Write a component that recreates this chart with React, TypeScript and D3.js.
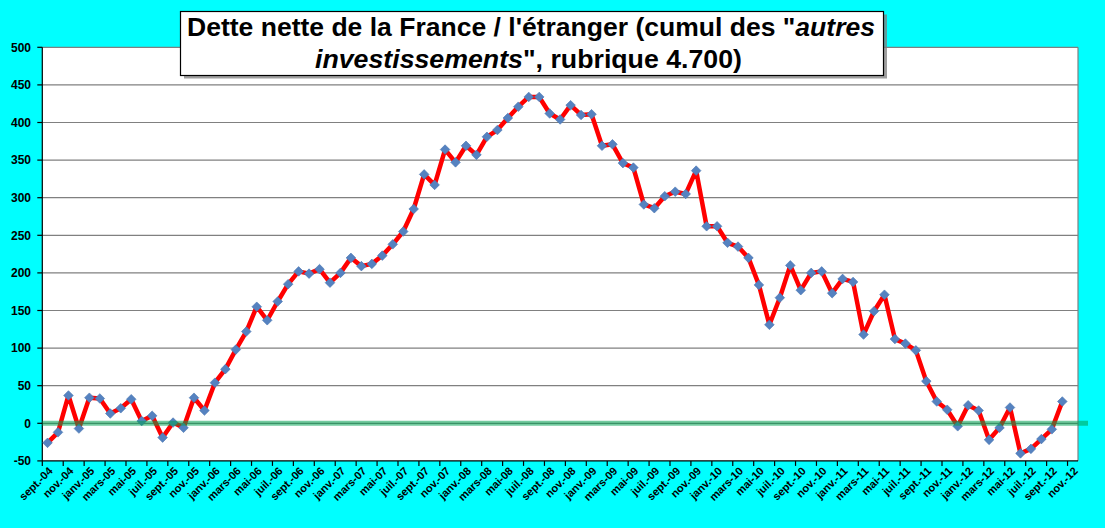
import React from "react";
import * as d3 from "d3";

const MONTHS = ["janv.", "févr.", "mars", "avr.", "mai", "juin", "juil.", "août", "sept.", "oct.", "nov.", "déc."];
// categories: sept-04 .. nov-12 (99 months)
const START_YEAR = 2004;
const START_MONTH = 8; // sept.
const N_CATEGORIES = 99;
const categories: string[] = d3.range(N_CATEGORIES).map((i) => {
  const m = (START_MONTH + i) % 12;
  const y = START_YEAR + Math.floor((START_MONTH + i) / 12);
  return `${MONTHS[m]}-${String(y % 100).padStart(2, "0")}`;
});

const values: number[] = [
  -26, -12, 37, -7, 34, 33, 13, 20, 32, 3,
  10, -19, 1, -6, 34, 17, 54, 72, 98, 122,
  155, 137, 162, 185, 202, 199, 205, 187, 200, 220,
  209, 212, 223, 238, 255, 285, 331, 317, 364, 347,
  369, 357, 381, 390, 406, 421, 434, 434, 412, 404,
  423, 410, 411, 369, 371, 346, 340, 291, 286, 302,
  308, 305, 336, 262, 262, 240, 235, 220, 184, 131,
  167, 210, 177, 200, 202, 173, 192, 188, 118, 149,
  171, 112, 106, 97, 56, 29, 18, -4, 24, 17,
  -22, -6, 21, -40, -34, -21, -8, 29,
];

const yTicks: number[] = [-50, 0, 50, 100, 150, 200, 250, 300, 350, 400, 450, 500];
const titleLine1 = ["Dette nette de la France / l'étranger (cumul des \"", "autres"];
const titleLine2 = ["investissements", "\", rubrique 4.700)"];

const W = 1105;
const H = 528;
const L = 42.3, R = 1078, T = 47.3, B = 460.9;
const FONT = "'Liberation Sans', Arial, sans-serif";

export default function App() {
  const x = d3.scaleBand<string>().domain(categories).range([L, R]).paddingInner(0).paddingOuter(0);
  const y = d3.scaleLinear().domain([-50, 500]).range([B, T]);
  const cx = (i: number) => (x(categories[i]) as number) + x.bandwidth() / 2;

  const line = d3
    .line<number>()
    .x((_, i) => cx(i))
    .y((d) => y(d));

  const diamond = d3.symbol(d3.symbolSquare, 46)() as string;

  const tickIdx = d3.range(0, N_CATEGORIES, 2);

  return (
    <div style={{ position: "fixed", left: 0, top: 0, width: W, height: H }}>
      <svg width={W} height={H} style={{ display: "block" }}>
        <rect x={0} y={0} width={W} height={H} fill="#00FFFF" />
        <rect x={L} y={T} width={R - L} height={B - T} fill="#FFFFFF" />
        {/* gridlines */}
        {yTicks.filter((t) => t !== -50).map((t) => (
          <line key={"g" + t} x1={L} x2={R} y1={y(t)} y2={y(t)} stroke="#808080" strokeWidth={1.2} />
        ))}
        {/* right border */}
        <line x1={R} x2={R} y1={T} y2={B} stroke="#808080" strokeWidth={1.2} />
        {/* y axis */}
        <line x1={L} x2={L} y1={T} y2={B} stroke="#000" strokeWidth={1.2} />
        {yTicks.map((t) => (
          <g key={"y" + t}>
            <line x1={L - 5} x2={L} y1={y(t)} y2={y(t)} stroke="#000" strokeWidth={1.2} />
            <text
              x={31}
              y={y(t)}
              dy="0.36em"
              textAnchor="end"
              fontFamily={FONT}
              fontWeight="bold"
              fontSize={12}
              fill="#000"
            >
              {t}
            </text>
          </g>
        ))}
        {/* x axis */}
        <line x1={L} x2={R} y1={B} y2={B} stroke="#000" strokeWidth={1.2} />
        {tickIdx.map((i) => {
          const bx = x(categories[i]) as number;
          return <line key={"xt" + i} x1={bx} x2={bx} y1={B} y2={B + 5} stroke="#000" strokeWidth={1.2} />;
        })}
        {tickIdx.map((i) => (
          <text
            key={"xl" + i}
            transform={`translate(${cx(i) + 3},${B + 8}) rotate(-45)`}
            textAnchor="end"
            dy="0.35em"
            fontFamily={FONT}
            fontWeight="bold"
            fontSize={11}
            fill="#000"
          >
            {categories[i]}
          </text>
        ))}
        {/* series */}
        <path d={line(values) as string} fill="none" stroke="#FF0000" strokeWidth={4.5} strokeLinejoin="round" />
        {values.map((v, i) => (
          <path
            key={"m" + i}
            d={diamond}
            transform={`translate(${cx(i)},${y(v)}) rotate(45)`}
            fill="#5582C0"
            stroke="#4A76B2"
            strokeWidth={0.6}
          />
        ))}
        {/* zero line */}
        <line x1={L} x2={1088} y1={y(0)} y2={y(0)} stroke="#00A050" strokeOpacity={0.55} strokeWidth={5} />
        {/* title */}
        <rect x={184} y={14.5} width={703} height={64} fill="#7f7f7f" opacity={0.75} />
        <rect x={180.5} y={11.5} width={703} height={64} fill="#FFFFFF" stroke="#000" strokeWidth={1.2} />
        <text
          x={531}
          y={36}
          textAnchor="middle"
          fontFamily={FONT}
          fontWeight="bold"
          fontSize={25}
          fill="#000"
          textLength={688}
          lengthAdjust="spacingAndGlyphs"
        >
          <tspan>{titleLine1[0]}</tspan>
          <tspan fontStyle="italic">{titleLine1[1]}</tspan>
        </text>
        <text
          x={528.5}
          y={67.5}
          textAnchor="middle"
          fontFamily={FONT}
          fontWeight="bold"
          fontSize={25}
          fill="#000"
          textLength={427}
          lengthAdjust="spacingAndGlyphs"
        >
          <tspan fontStyle="italic">{titleLine2[0]}</tspan>
          <tspan>{titleLine2[1]}</tspan>
        </text>
      </svg>
    </div>
  );
}
